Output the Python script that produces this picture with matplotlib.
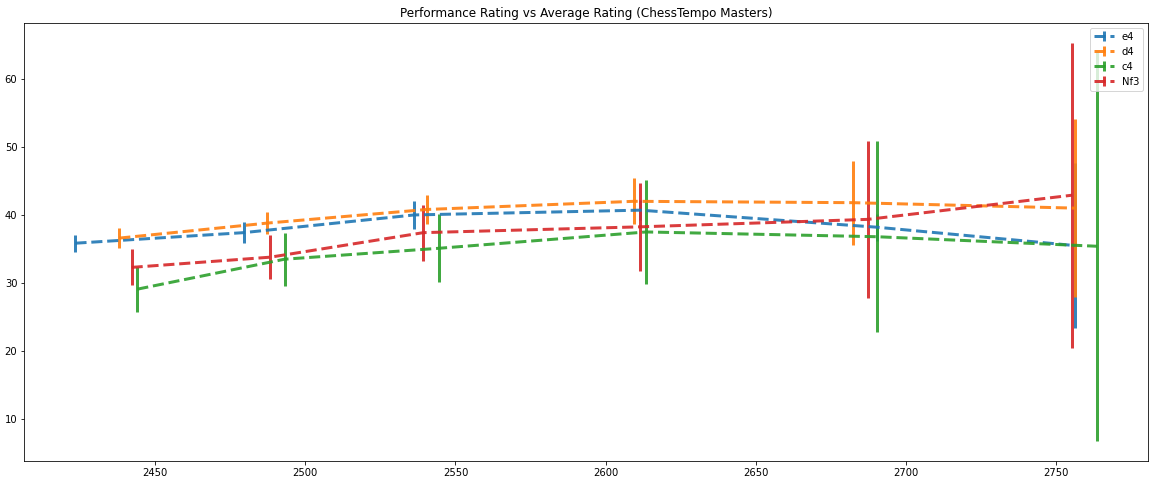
import matplotlib
matplotlib.use("Agg")
import matplotlib.pyplot as plt

# average rating, performance rating and error for each first move
e4_x = [2423.5, 2479.5, 2536.3, 2611.5, 2690.2, 2756.2]
e4_y = [35.85, 37.4, 40.0, 40.7, 38.2, 35.5]
e4_err = [1.25, 1.5, 2.1, 1.5, 2.0, 12.1]

d4_x = [2438.1, 2487.3, 2540.4, 2609.4, 2682.3, 2756.2]
d4_y = [36.6, 38.8, 40.8, 42.0, 41.8, 41.0]
d4_err = [1.45, 1.65, 2.15, 3.4, 6.15, 13.05]

c4_x = [2444.1, 2493.1, 2544.4, 2613.5, 2690.3, 2763.6]
c4_y = [29.1, 33.5, 35.1, 37.5, 36.8, 35.4]
c4_err = [3.3, 3.9, 5.0, 7.7, 14.0, 28.6]

nf3_x = [2442.2, 2488.4, 2539.3, 2611.3, 2687.3, 2755.3]
nf3_y = [32.3, 33.8, 37.4, 38.25, 39.35, 42.9]
nf3_err = [2.65, 3.2, 4.1, 6.45, 11.5, 22.4]

moves = ["e4", "d4", "c4", "Nf3"]
series = [
    (e4_x, e4_y, e4_err),
    (d4_x, d4_y, d4_err),
    (c4_x, c4_y, c4_err),
    (nf3_x, nf3_y, nf3_err),
]

fig = plt.figure(figsize=(1171 / 72, 489 / 72), dpi=72)
ax = fig.add_subplot(111)

for name, (x, y, err) in zip(moves, series):
    ax.errorbar(x, y, yerr=err, linestyle="--", linewidth=3, elinewidth=3,
                capsize=0, alpha=0.9, label=name)

ax.set_title("Performance Rating vs Average Rating (ChessTempo Masters)")
ax.legend(loc="upper right")

plt.subplots_adjust(left=0.0208, right=0.9806, bottom=0.0573, top=0.9536)
plt.savefig("out.png", dpi=72)
